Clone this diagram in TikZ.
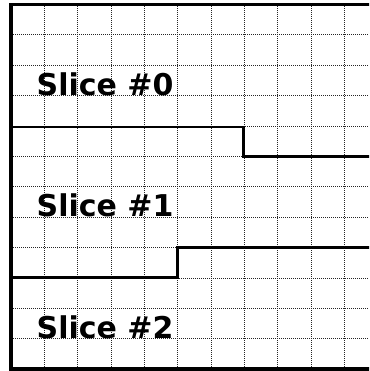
\documentclass[tikz,border=0pt]{standalone}
\usepackage{fontspec}
\setmainfont{DejaVu Sans}
\begin{document}
\begin{tikzpicture}[x=1pt,y=-1pt,
  gridline/.style={black!85, line width=0.9pt, dash pattern=on 1pt off 1pt},
  frameline/.style={black, line width=3.5pt},
  divline/.style={black, line width=2.5pt},
  slicelabel/.style={anchor=base west, inner sep=0pt, font=\bfseries\fontsize{30}{35}\selectfont}]
\useasboundingbox (0,0) rectangle (369,371);
\begin{scope}
\clip (0,0) rectangle (369,371);
\foreach \k in {1,...,10} {
  \draw[gridline] ({11+33.33*\k},4) -- ({11+33.33*\k},369);
}
\foreach \k in {1,...,11} {
  \draw[gridline] (11,{4.4+30.4*\k}) -- (369,{4.4+30.4*\k});
}
\draw[divline] (11,126.8) -- (243.3,126.8) -- (243.3,156.4) -- (370,156.4);
\draw[divline] (11,277.6) -- (177.7,277.6) -- (177.7,247.6) -- (370,247.6);
\draw[frameline] (370,4.6) -- (11,4.6) -- (11,369) -- (370,369);
\end{scope}
\node[slicelabel] (s0) at (36.5,95.2) {Slice \#0};
\node[slicelabel] (s1) at (36.5,216.4) {Slice \#1};
\node[slicelabel] (s2) at (36.5,338) {Slice \#2};
\end{tikzpicture}
\end{document}
